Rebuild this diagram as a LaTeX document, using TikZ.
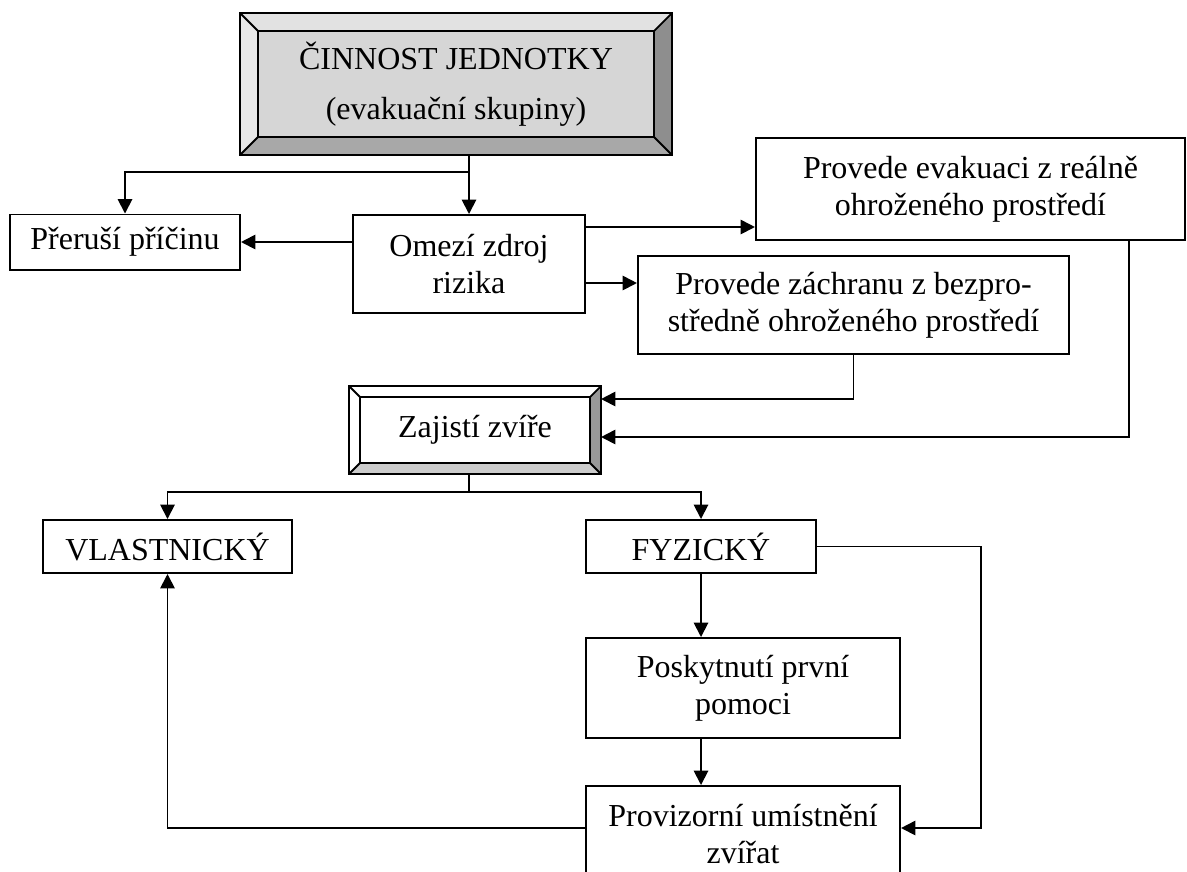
\documentclass[tikz,border=0pt]{standalone}
\usepackage{fontspec}
\setmainfont{Liberation Serif}
\usetikzlibrary{arrows.meta}

\definecolor{bevtop}{HTML}{E2E2E2}
\definecolor{bevleft}{HTML}{E8E8E8}
\definecolor{bevface}{HTML}{D6D6D6}
\definecolor{bevbottom}{HTML}{A8A8A8}
\definecolor{bevright}{HTML}{8E8E8E}
\definecolor{lightright}{HTML}{999999}
\definecolor{lightbottom}{HTML}{CCCCCC}

% raised frame round a node: node, depth, top, left, right, bottom colour
\newcommand{\bevelframe}[6]{%
  \path (#1.north west) ++(#2,#2) coordinate (#1i1) (#1.south east) ++(-#2,-#2) coordinate (#1i3);
  \fill[#3] (#1.north west) -- (#1.north east) -- (#1i3 |- #1i1) -- (#1i1) -- cycle;
  \fill[#4] (#1.north west) -- (#1i1) -- (#1i1 |- #1i3) -- (#1.south west) -- cycle;
  \fill[#5] (#1.north east) -- (#1i3 |- #1i1) -- (#1i3) -- (#1.south east) -- cycle;
  \fill[#6] (#1.south west) -- (#1i1 |- #1i3) -- (#1i3) -- (#1.south east) -- cycle;
  \draw[line width=1.3pt] (#1.north west) rectangle (#1.south east) (#1i1) rectangle (#1i3)
    (#1.north west) -- (#1i1) (#1.north east) -- (#1i3 |- #1i1)
    (#1.south west) -- (#1i1 |- #1i3) (#1.south east) -- (#1i3);
}

\begin{document}
\begin{tikzpicture}[x=0.025cm,y=-0.025cm,
    every node/.style={font=\fontsize{22.76}{26.3}\selectfont, align=center, inner sep=0pt},
    box/.style={draw, line width=1.4pt},
    raised/.style={outer sep=0pt},
    arr/.style={-{Triangle[length=0.36cm,width=0.36cm]}, line width=1.3pt}]
  \useasboundingbox (0,0) rectangle (1187,871);

  \node[raised, fill=bevface, minimum width=10.8cm, minimum height=3.55cm] (cinnost) at (456,84) {ČINNOST JEDNOTKY\\[9.3pt](evakuační skupiny)};
  \bevelframe{cinnost}{18}{bevtop}{bevleft}{bevright}{bevbottom}
  \node[box, minimum width=5.75cm, minimum height=1.375cm] (preru) at (125,242) {Přeruší příčinu};
  \node[box, minimum width=5.8cm, minimum height=2.45cm] (omezi) at (469,264) {Omezí zdroj\\rizika};
  \node[box, minimum width=10.725cm, minimum height=2.55cm] (evak) at (970.5,189) {Provede evakuaci z reálně\\ohroženého prostředí};
  \node[box, minimum width=10.775cm, minimum height=2.45cm] (zach) at (853.5,305) {Provede záchranu z bezpro-\\středně ohroženého prostředí};
  \node[raised, fill=white, minimum width=6.3cm, minimum height=2.2cm] (zaj) at (475,430) {Zajistí zvíře};
  \bevelframe{zaj}{11}{white}{white}{lightright}{lightbottom}
  \node[box, minimum width=6.225cm, minimum height=1.325cm] (vlast) at (167.5,546.5) {VLASTNICKÝ};
  \node[box, minimum width=5.75cm, minimum height=1.325cm] (fyz) at (701,546.5) {FYZICKÝ};
  \node[box, minimum width=7.85cm, minimum height=2.5cm] (posk) at (743,688) {Poskytnutí první\\pomoci};
  \node[box, minimum width=7.85cm, minimum height=2.4cm] (prov) at (743,834) {Provizorní umístnění\\zvířat};

  % from the unit
  \path (omezi.north) ++(0,-42) coordinate (split);
  \draw[arr] (cinnost.south -| omezi.north) -- (omezi.north);
  \draw[arr] (split) -| (preru.north);
  \draw[arr] (omezi.west |- preru.east) -- (preru.east);
  \path (omezi.east) ++(0,-37) coordinate (oe1) (omezi.east) ++(0,19) coordinate (oe2);
  \draw[arr] (oe1) -- (oe1 -| evak.west);
  \draw[arr] (oe2) -- (oe2 -| zach.west);

  % back to the animal
  \path (zaj.east) ++(0,-31) coordinate (ze1) (zaj.east) ++(0,7) coordinate (ze2);
  \path (evak.south) ++(158.5,0) coordinate (es);
  \draw[arr] (zach.south) |- (ze1);
  \draw[arr] (es) |- (ze2);

  % kinds of securing
  \path (zaj.south -| omezi.north) coordinate (zs) ++(0,18) coordinate (zsplit);
  \draw[line width=1.3pt] (zs) -- (zsplit);
  \draw[arr] (zsplit) -| (vlast.north);
  \draw[arr] (zsplit) -| (fyz.north);
  \draw[arr] (fyz.south) -- (posk.north -| fyz.south);
  \draw[arr] (posk.south -| fyz.south) -- (prov.north -| fyz.south);
  \path (prov.east) ++(0,-6) coordinate (pe) (prov.west) ++(0,-6) coordinate (pw);
  \draw[arr] (fyz.east) -- ++(164,0) |- (pe);
  \draw[arr] (pw) -| (vlast.south);
\end{tikzpicture}
\end{document}
